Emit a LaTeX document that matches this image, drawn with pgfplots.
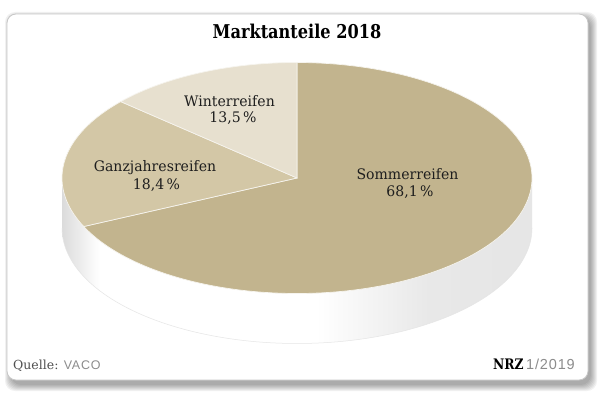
\documentclass[border=0pt]{standalone}
\usepackage{fontspec}
\setmainfont{DejaVu Serif}
\newfontfamily\titlefont[FakeStretch=0.85]{DejaVu Serif}
\newfontfamily\labelfont[FakeStretch=0.97]{DejaVu Serif}
\newfontfamily\lightsans[LetterSpace=6]{Liberation Sans}
\usepackage{pgfplots}
\pgfplotsset{compat=1.18}

\definecolor{sommer}{RGB}{194,180,142}
\definecolor{ganz}{RGB}{211,199,166}
\definecolor{winter}{RGB}{231,224,207}
\definecolor{txt}{RGB}{30,30,30}
\definecolor{foot}{RGB}{80,80,80}

\pgfdeclarehorizontalshading{cylside}{100bp}{color(0bp)=(black!14); color(25bp)=(black!14); color(29bp)=(white); color(52bp)=(white); color(64bp)=(black!9); color(75bp)=(black!10); color(100bp)=(black!10)}

% shares in percent
\def\pS{68.1}
\def\pG{18.4}
\def\pW{13.5}
% geometry (in bp, picture 600 x 394)
\def\cx{297}
\def\cy{216}
\def\rx{235}
\def\ry{115.5}
\def\dep{50}

\begin{document}
\begin{tikzpicture}[x=1bp,y=1bp]
\pgfmathsetmacro{\aA}{90}
\pgfmathsetmacro{\aB}{90+3.6*\pW}
\pgfmathsetmacro{\aC}{\aB+3.6*\pG}
\pgfmathsetmacro{\aD}{\aC+3.6*\pS}
\pgfmathsetmacro{\cyb}{\cy-\dep}
% card shadow
\foreach \e in {0,1,2,3,4,5,6}{
  \fill[black,opacity=0.055,rounded corners=10bp] (11-\e,9-\e) rectangle (591+\e,376+\e);
}
% card
\draw[draw=black!22, fill=white, rounded corners=9bp, line width=0.8bp] (7,14) rectangle (588,380);

\begin{axis}[at={(0,0)}, anchor=south west, scale only axis,
  width=600bp, height=394bp, xmin=0, xmax=600, ymin=0, ymax=394,
  hide axis, clip=false]
% cylinder side
\addplot[draw=none, shading=cylside, domain=0:360, samples=120, variable=\t]
  ({\cx+\rx*cos(\t)},{\cyb+\ry*sin(\t)}) -- cycle;
\addplot[draw=none, shading=cylside] coordinates {(\cx-\rx,\cyb) (\cx+\rx,\cyb) (\cx+\rx,\cy) (\cx-\rx,\cy)} -- cycle;
\addplot[draw=black!10, line width=0.5bp, domain=180:360, samples=100, variable=\t]
  ({\cx+\rx*cos(\t)},{\cyb+\ry*sin(\t)});
% top slices
\addplot[fill=sommer, draw=white!85!sommer, line width=0.7bp, domain=\aC:\aD, samples=150, variable=\t]
  ({\cx+\rx*cos(\t)},{\cy+\ry*sin(\t)}) -- (\cx,\cy) -- cycle;
\addplot[fill=ganz, draw=white!85!sommer, line width=0.7bp, domain=\aB:\aC, samples=50, variable=\t]
  ({\cx+\rx*cos(\t)},{\cy+\ry*sin(\t)}) -- (\cx,\cy) -- cycle;
\addplot[fill=winter, draw=white!85!sommer, line width=0.7bp, domain=\aA:\aB, samples=40, variable=\t]
  ({\cx+\rx*cos(\t)},{\cy+\ry*sin(\t)}) -- (\cx,\cy) -- cycle;

% labels
\tikzset{lab/.style={anchor=base, text=txt, inner sep=0pt, font=\labelfont\fontsize{14.5bp}{16bp}\selectfont}}
\node[lab] at (axis cs:229.5,287) {Winterreifen};
\node[lab] at (axis cs:233,271) {13,5\,\%};
\node[lab] at (axis cs:155,222.5) {Ganzjahresreifen};
\node[lab] at (axis cs:156.5,205) {18,4\,\%};
\node[lab] at (axis cs:407.5,214) {Sommerreifen};
\node[lab] at (axis cs:410,197.5) {68,1\,\%};

% title
\node[anchor=base, text=black, font=\titlefont\bfseries\fontsize{19bp}{22bp}\selectfont] at (axis cs:297,355) {Marktanteile 2018};

% footer
\node[anchor=base west, inner sep=0pt, text=foot, font=\fontsize{12.5bp}{14bp}\selectfont] at (axis cs:13,24.5) {Quelle: {\lightsans\color{black!45}VACO}};
\node[anchor=base east, inner sep=0pt, font=\fontsize{14.5bp}{16bp}\selectfont] at (axis cs:575,24.5) {{\titlefont\bfseries\color{black}NRZ}\,{\lightsans\color{black!45}1/2019}};
\end{axis}
\pgfresetboundingbox
\path (0,0) rectangle (600,394);
\end{tikzpicture}
\end{document}
